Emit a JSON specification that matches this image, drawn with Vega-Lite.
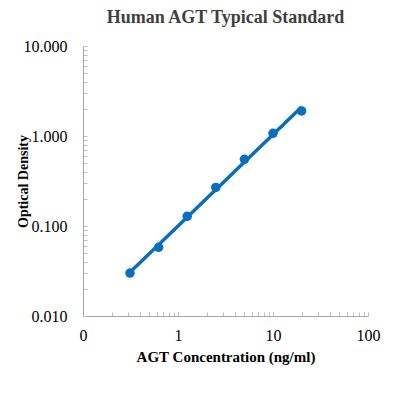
{
  "$schema": "https://vega.github.io/schema/vega-lite/v6.json",
  "autosize": "none",
  "width": 285,
  "height": 270,
  "padding": {"left": 83, "top": 46, "right": 26, "bottom": 78},
  "background": "white",
  "config": {"font": "Liberation Serif", "view": {"stroke": null}},
  "title": {"text": "Human AGT Typical Standard", "font": "Liberation Serif", "fontSize": 18, "fontWeight": "bold", "color": "#404040", "anchor": "middle", "offset": 11},
  "data": {"values": [
    {"conc": 0.3125, "od": 0.030},
    {"conc": 0.625, "od": 0.058},
    {"conc": 1.25, "od": 0.128},
    {"conc": 2.5, "od": 0.268},
    {"conc": 5, "od": 0.55},
    {"conc": 10, "od": 1.07},
    {"conc": 20, "od": 1.9}
  ]},
  "encoding": {
    "x": {"field": "conc", "type": "quantitative",
      "scale": {"type": "log", "domain": [0.1, 100], "nice": false},
      "axis": {"title": "AGT Concentration (ng/ml)", "titleFont": "Liberation Serif", "titleFontSize": 15, "titleFontWeight": "bold", "titleColor": "#000000", "titlePadding": 6,
        "values": [0.1,0.2,0.3,0.4,0.5,0.6,0.7,0.8,0.9,1,2,3,4,5,6,7,8,9,10,20,30,40,50,60,70,80,90,100],
        "labelExpr": "datum.value == 0.1 ? '0' : (datum.value == 1 || datum.value == 10 || datum.value == 100) ? format(datum.value, 'd') : ''",
        "labelFont": "Liberation Serif", "labelFontSize": 16, "labelColor": "#000000", "labelPadding": 15, "labelOverlap": false, "labelFlush": false,
        "tickSize": -4, "tickColor": "#bfbfbf", "domainColor": "#a6a6a6", "grid": false}},
    "y": {"field": "od", "type": "quantitative",
      "scale": {"type": "log", "domain": [0.01, 10], "nice": false},
      "axis": {"title": "Optical Density", "titleFont": "Liberation Serif", "titleFontSize": 14, "titleFontWeight": "bold", "titleColor": "#000000", "titlePadding": -7,
        "values": [0.01,0.02,0.03,0.04,0.05,0.06,0.07,0.08,0.09,0.1,0.2,0.3,0.4,0.5,0.6,0.7,0.8,0.9,1,2,3,4,5,6,7,8,9,10],
        "labelExpr": "(datum.value == 0.01 || datum.value == 0.1 || datum.value == 1 || datum.value == 10) ? format(datum.value, '.3f') : ''",
        "labelFont": "Liberation Serif", "labelFontSize": 16, "labelColor": "#000000", "labelPadding": 20, "labelOverlap": false, "labelFlush": false,
        "tickSize": -4, "tickColor": "#bfbfbf", "domainColor": "#a6a6a6", "grid": false}}
  },
  "layer": [
    {"transform": [{"regression": "od", "on": "conc", "method": "pow", "extent": [0.3125, 20]}],
     "mark": {"type": "line", "color": "#0a6ebd", "strokeWidth": 3.5}},
    {"mark": {"type": "point", "filled": true, "color": "#0a6ebd", "size": 90, "opacity": 1}}
  ]
}
